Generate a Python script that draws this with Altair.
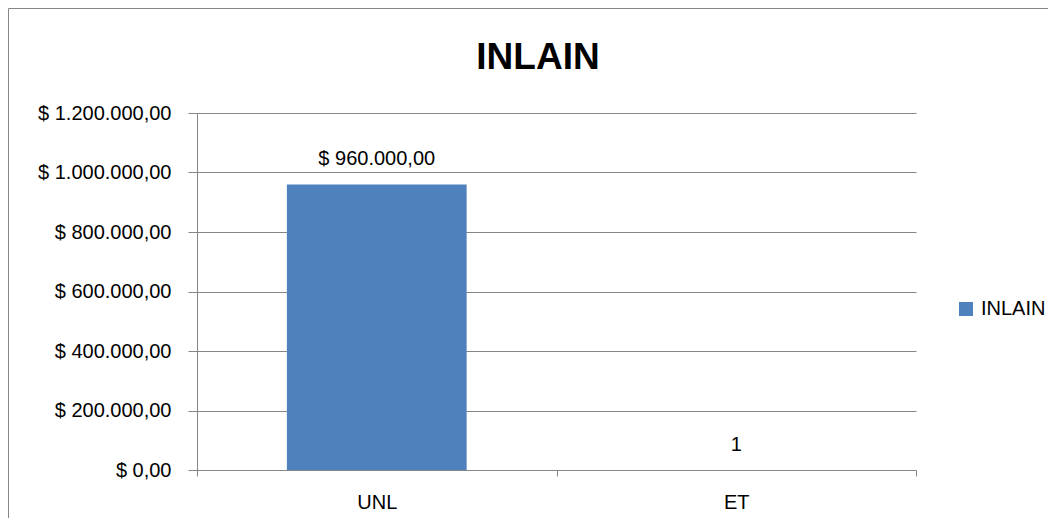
import altair as alt
import pandas as pd

# ---- data ----
categories = ["UNL", "ET"]
values = [960000, 1]
value_labels = ["$ 960.000,00", "1"]
series_name = "INLAIN"
y_ticks = [0, 200000, 400000, 600000, 800000, 1000000, 1200000]

df = pd.DataFrame({
    "cat": categories,
    "val": values,
    "lab": value_labels,
    "series": [series_name] * len(categories),
})

FONT = "Liberation Sans"
GRAY = "#868686"
BLUE = "#4F81BD"
W, H = 719, 357
PAD_L, PAD_T = 189, 105
TOTAL_W, TOTAL_H = 1040, 510

label_expr = ("'$ ' + replace(replace(replace(format(datum.value, ',.2f'), /,/g, '_'), "
              "/\\./g, ','), /_/g, '.')")

x_enc = alt.X(
    "cat:N", sort=categories, title=None,
    scale=alt.Scale(paddingInner=0, paddingOuter=0),
    axis=alt.Axis(labelAngle=0, tickBand="extent", ticks=True, tickSize=6,
                  tickColor=GRAY, domainColor=GRAY, labelFontSize=20,
                  labelPadding=16, labelColor="black", labelFont=FONT, grid=False),
)
y_enc = alt.Y(
    "val:Q", title=None,
    scale=alt.Scale(domain=[0, 1200000], nice=False, zero=True),
    axis=alt.Axis(values=y_ticks, labelExpr=label_expr, tickSize=9, labelPadding=17,
                  grid=True, gridColor=GRAY, domainColor=GRAY, tickColor=GRAY,
                  labelFontSize=20, labelColor="black", labelFont=FONT),
)

base = alt.Chart(df)

bars = base.mark_bar(color=BLUE, width=alt.RelativeBandSize(0.5)).encode(
    x=x_enc, y=y_enc,
    color=alt.Color(
        "series:N",
        scale=alt.Scale(range=[BLUE]),
        legend=alt.Legend(title=None, orient="none", legendX=759, legendY=186,
                          symbolType="square", symbolSize=196, symbolStrokeWidth=0,
                          labelFontSize=20, labelFont=FONT, labelColor="black",
                          labelOffset=5, padding=0),
    ),
)

texts = base.mark_text(dy=-19, baseline="alphabetic", fontSize=20, font=FONT,
                       color="black").encode(x=x_enc, y=y_enc, text="lab:N")

border_df = pd.DataFrame({"k": [0]})
border_left = alt.Chart(border_df).mark_rule(color=GRAY, strokeWidth=1).encode(
    x=alt.value(-PAD_L + 0.5), y=alt.value(-PAD_T + 0.5), y2=alt.value(H + 200))
border_top = alt.Chart(border_df).mark_rule(color=GRAY, strokeWidth=1).encode(
    x=alt.value(-PAD_L + 0.5), x2=alt.value(W + 400), y=alt.value(-PAD_T + 0.5))

chart = alt.layer(border_left, border_top, bars, texts).properties(
    width=W, height=H,
    autosize=alt.AutoSizeParams(type="none"),
    padding={"left": PAD_L, "top": PAD_T,
             "right": TOTAL_W - PAD_L - W, "bottom": TOTAL_H - PAD_T - H},
    title=alt.Title("INLAIN", fontSize=37, font=FONT, fontWeight="bold",
                    color="black", anchor="middle", dx=-18.5, baseline="alphabetic",
                    offset=-98),
    background="white",
).configure_view(stroke=None)

chart.save("out.html", embed_options={"renderer": "svg", "actions": False})
